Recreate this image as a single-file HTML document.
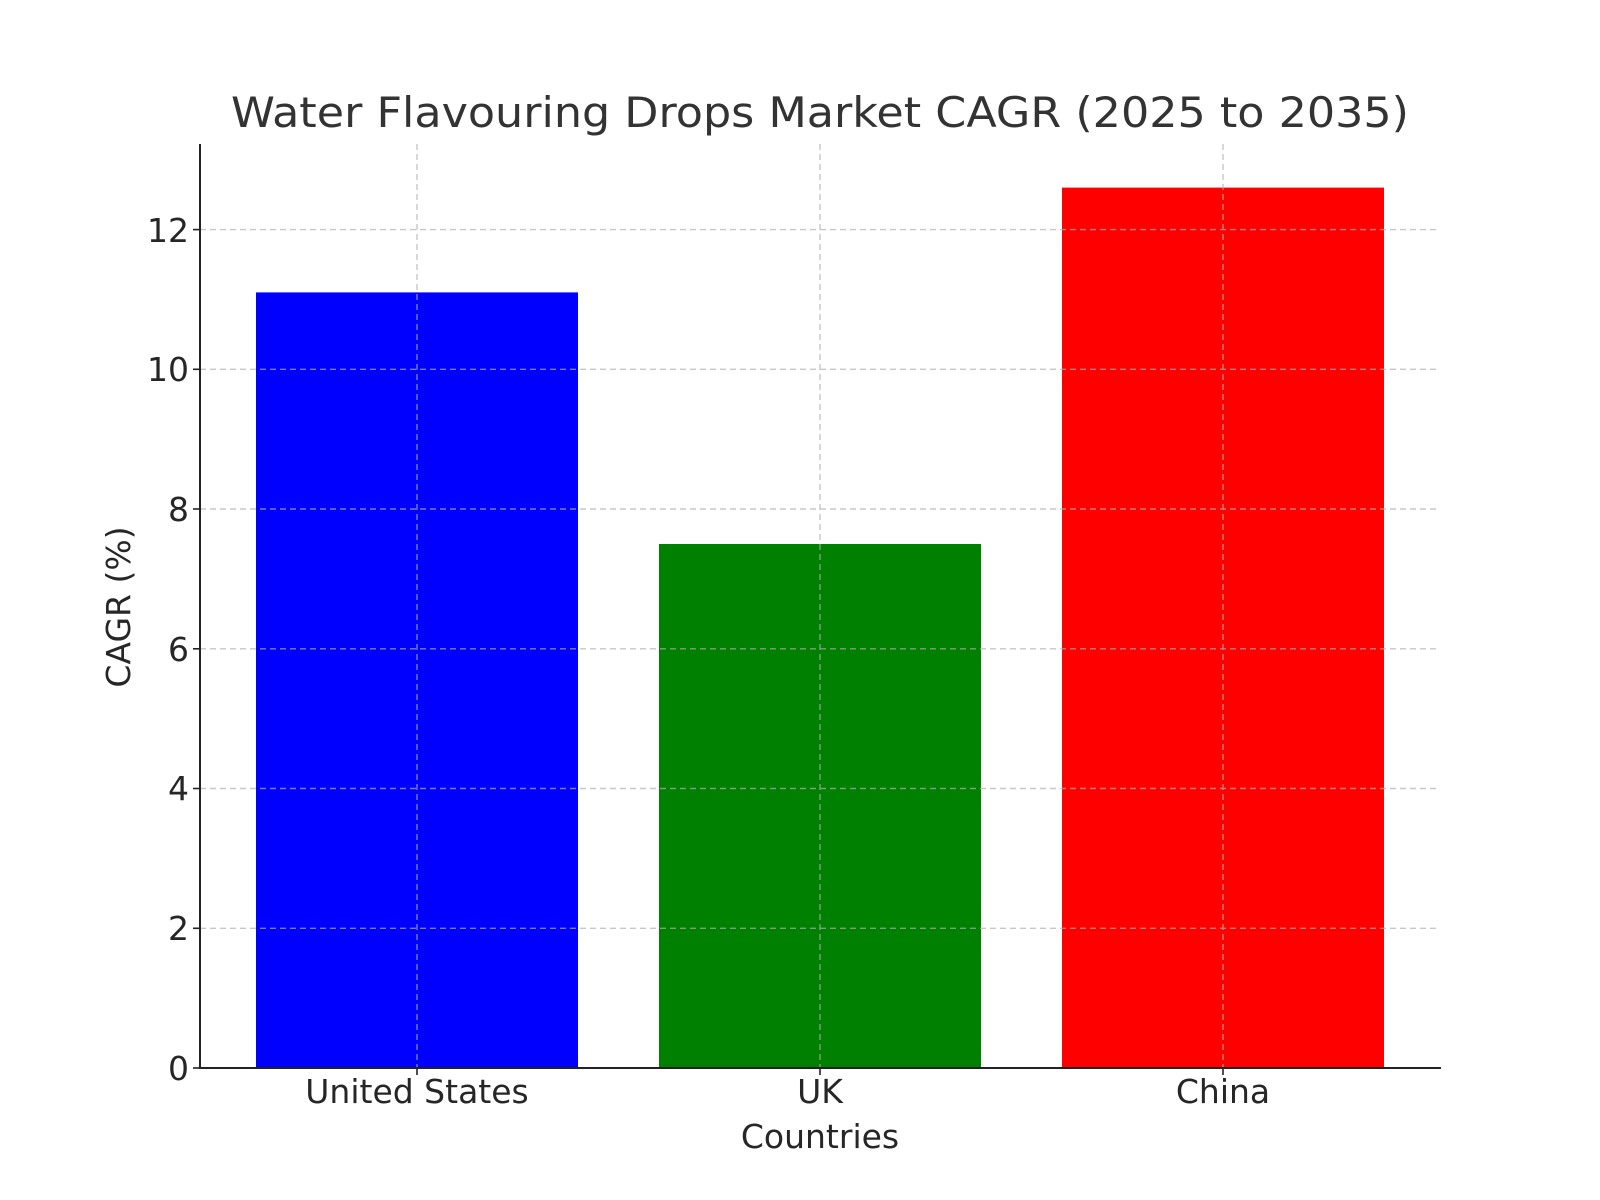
<!DOCTYPE html>
<html><head><style>body{margin:0;background:#fff}svg{display:block}text{font-family:"DejaVu Sans","Liberation Sans",sans-serif;fill:#262626}</style></head>
<body>
<svg width="1600" height="1200" viewBox="0 0 1600 1200" xmlns="http://www.w3.org/2000/svg">
<rect width="1600" height="1200" fill="#fff"/>
<rect x="256" y="292.4" width="322" height="775.6" fill="#0000ff"/>
<rect x="659" y="544" width="322" height="524" fill="#008000"/>
<rect x="1062" y="187.6" width="322" height="880.4" fill="#ff0000"/>
<g stroke="#b0b0b0" stroke-width="1.4" stroke-dasharray="6,4" opacity="0.7">
<line x1="200" x2="1440" y1="928.3" y2="928.3"/>
<line x1="200" x2="1440" y1="788.5" y2="788.5"/>
<line x1="200" x2="1440" y1="648.8" y2="648.8"/>
<line x1="200" x2="1440" y1="509" y2="509"/>
<line x1="200" x2="1440" y1="369.3" y2="369.3"/>
<line x1="200" x2="1440" y1="229.6" y2="229.6"/>
<line x1="417" x2="417" y1="144" y2="1068"/>
<line x1="820" x2="820" y1="144" y2="1068"/>
<line x1="1223" x2="1223" y1="144" y2="1068"/>
</g>
<g stroke="#222" stroke-width="2">
<line x1="200" y1="144" x2="200" y2="1069"/>
<line x1="199" y1="1068" x2="1441" y2="1068"/>
<g stroke-width="1.6">
<line x1="193" x2="200" y1="1068" y2="1068"/><line x1="193" x2="200" y1="928.3" y2="928.3"/><line x1="193" x2="200" y1="788.5" y2="788.5"/><line x1="193" x2="200" y1="648.8" y2="648.8"/><line x1="193" x2="200" y1="509" y2="509"/><line x1="193" x2="200" y1="369.3" y2="369.3"/><line x1="193" x2="200" y1="229.6" y2="229.6"/>
<line x1="417" x2="417" y1="1068" y2="1075"/><line x1="820" x2="820" y1="1068" y2="1075"/><line x1="1223" x2="1223" y1="1068" y2="1075"/>
</g></g>
<g font-size="33" text-anchor="end">
<text x="189" y="1080">0</text><text x="189" y="940">2</text><text x="189" y="800">4</text><text x="189" y="661">6</text><text x="189" y="521">8</text><text x="189" y="381">10</text><text x="189" y="242">12</text>
</g>
<g font-size="33" text-anchor="middle">
<text x="417" y="1103">United States</text><text x="820" y="1103">UK</text><text x="1223" y="1103">China</text>
<text x="820" y="1148">Countries</text>
<text transform="translate(130,607) rotate(-90)">CAGR (%)</text>
</g>
<text x="820" y="127" font-size="42" text-anchor="middle" textLength="1178" lengthAdjust="spacingAndGlyphs" style="fill:#333">Water Flavouring Drops Market CAGR (2025 to 2035)</text>
</svg>
</body></html>
